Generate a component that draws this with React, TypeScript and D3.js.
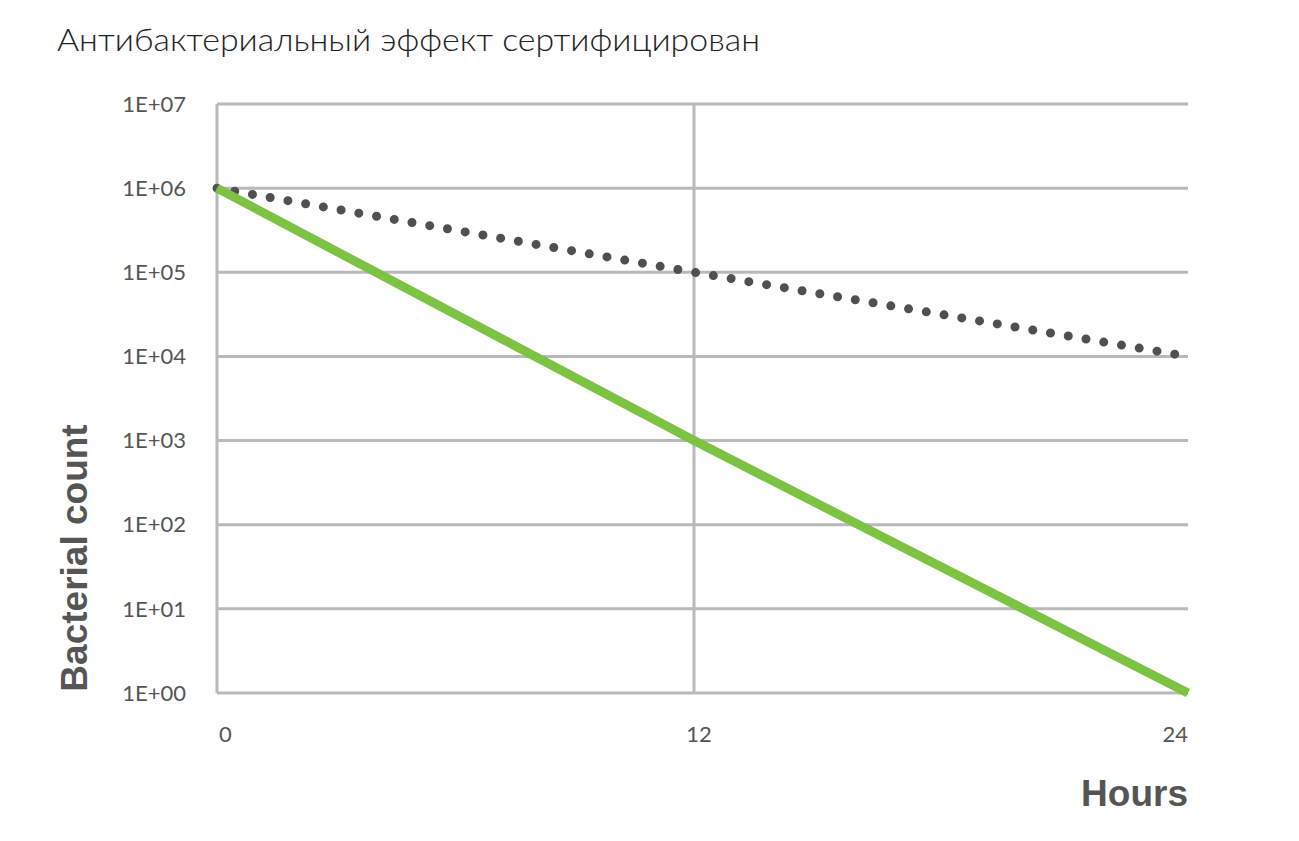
import React, { useEffect, useRef } from 'react';
import * as d3 from 'd3';

const title = 'Антибактериальный эффект сертифицирован';
const hours = [0, 12, 24];
const treated = [1e6, 1e3, 1e0];
const untreated = [1e6, 1e5, 1e4];
const yTicks = [1e0, 1e1, 1e2, 1e3, 1e4, 1e5, 1e6, 1e7];
const yTickLabels = ['1E+00', '1E+01', '1E+02', '1E+03', '1E+04', '1E+05', '1E+06', '1E+07'];
const xTickLabels = ['0', '12', '24'];

const W = 1299;
const H = 841;

// the source chart spaces its category columns slightly unevenly
const x = d3.scaleLinear().domain([0, 12, 24]).range([217, 694, 1188]);
const y = d3.scaleLog().domain([1, 1e7]).range([693, 104]);

export default function App() {
  const ref = useRef<SVGSVGElement>(null);

  useEffect(() => {
    const svg = d3.select(ref.current);
    svg.selectAll('*').remove();

    svg.append('text')
      .attr('x', 57).attr('y', 51)
      .attr('font-family', 'Lato, "Noto Sans", sans-serif')
      .attr('font-weight', 300)
      .attr('font-size', 32)
      .attr('textLength', 703)
      .attr('lengthAdjust', 'spacingAndGlyphs')
      .attr('fill', '#222')
      .text(title);

    const grid = svg.append('g');
    grid.selectAll('line.h')
      .data(yTicks)
      .enter().append('line')
      .attr('class', 'h')
      .attr('x1', x(0)).attr('x2', x(24))
      .attr('y1', d => y(d)).attr('y2', d => y(d))
      .attr('stroke', '#b9b9b9').attr('stroke-width', 3);
    grid.selectAll('line.v')
      .data([0, 12])
      .enter().append('line')
      .attr('class', 'v')
      .attr('x1', d => x(d)).attr('x2', d => x(d))
      .attr('y1', y(1e7)).attr('y2', y(1))
      .attr('stroke', '#b9b9b9').attr('stroke-width', 3);

    svg.append('g').selectAll('text')
      .data(yTicks)
      .enter().append('text')
      .attr('x', 186)
      .attr('y', d => y(d))
      .attr('dy', '0.35em')
      .attr('text-anchor', 'end')
      .attr('font-family', 'Lato, "Noto Sans", sans-serif')
      .attr('font-size', 22)
      .attr('fill', '#555')
      .text((d, i) => yTickLabels[i]);

    const anchors = ['start', 'middle', 'end'];
    const dxs = [2, 5, 0];
    svg.append('g').selectAll('text')
      .data(hours)
      .enter().append('text')
      .attr('x', (d, i) => x(d) + dxs[i])
      .attr('y', 742)
      .attr('text-anchor', (d, i) => anchors[i])
      .attr('font-family', 'Lato, "Noto Sans", sans-serif')
      .attr('font-size', 22)
      .attr('fill', '#555')
      .text((d, i) => xTickLabels[i]);

    const line = d3.line<number>()
      .x((d, i) => x(hours[i]))
      .y(d => y(d));

    svg.append('path')
      .datum(untreated)
      .attr('d', line)
      .attr('fill', 'none')
      .attr('stroke', '#505050')
      .attr('stroke-width', 9)
      .attr('stroke-linecap', 'round')
      .attr('stroke-dasharray', '0 18');

    svg.append('path')
      .datum(treated)
      .attr('d', line)
      .attr('fill', 'none')
      .attr('stroke', '#7cc243')
      .attr('stroke-width', 9);

    svg.append('text')
      .attr('transform', `translate(87, ${558}) rotate(-90)`)
      .attr('text-anchor', 'middle')
      .attr('font-family', '"Liberation Sans", Arial, sans-serif')
      .attr('font-weight', 'bold')
      .attr('font-size', 37)
      .attr('fill', '#555')
      .text('Bacterial count');

    svg.append('text')
      .attr('x', 1188).attr('y', 806)
      .attr('text-anchor', 'end')
      .attr('font-family', '"Liberation Sans", Arial, sans-serif')
      .attr('font-weight', 'bold')
      .attr('font-size', 37)
      .attr('fill', '#555')
      .text('Hours');
  }, []);

  return (
    <svg ref={ref} width={W} height={H}
      style={{ position: 'absolute', left: 0, top: 0, background: '#fff' }} />
  );
}
